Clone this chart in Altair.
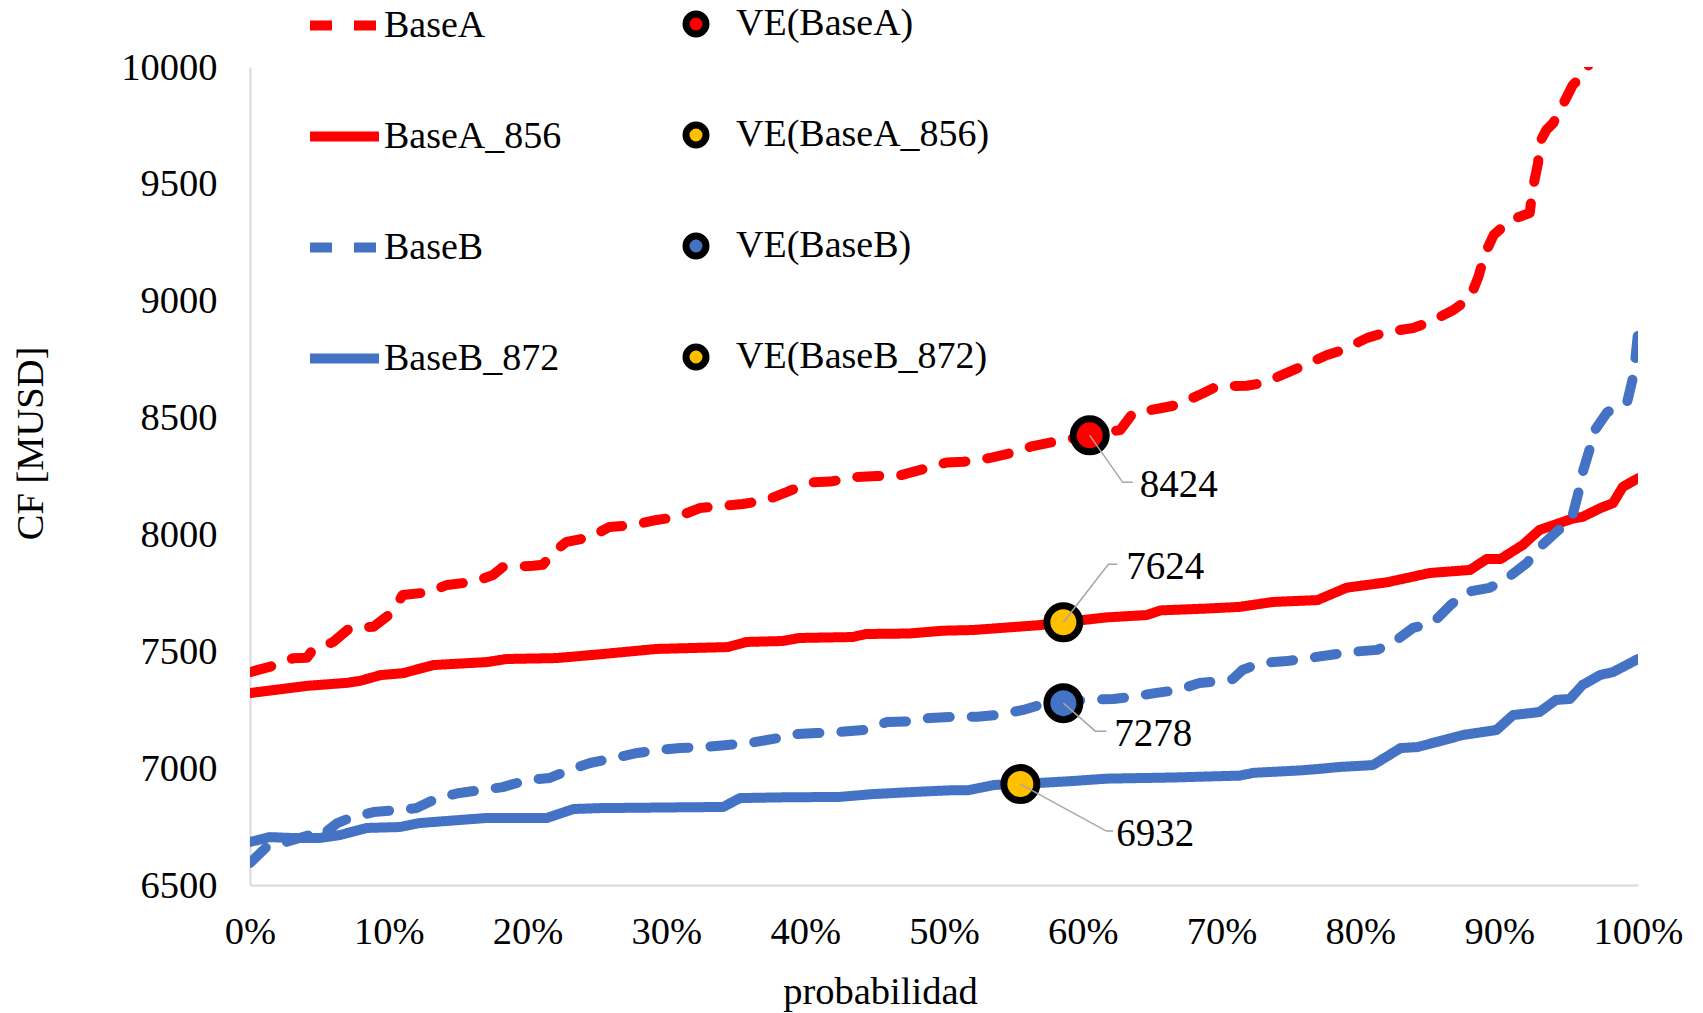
import altair as alt
import pandas as pd

# Cumulative probability (%) and CF [MUSD] for each case
base_a_prob = [0, 1.4, 3.1, 4.1, 4.5, 6.0, 7.2, 8.9, 10.2, 11.0, 12.8, 14.2, 16.1, 17.5, 18.2,
               19.0, 20.4, 21.1, 21.8, 22.8, 24.5, 25.9, 27.6, 29.3, 30.8, 32.4, 34.1, 35.5,
               37.2, 38.7, 40.3, 41.8, 43.7, 45.2, 46.8, 48.3, 50.2, 51.4, 53.3, 54.8, 56.4,
               57.9, 60.5, 62.7, 63.6, 65.6, 66.8, 68.7, 69.7, 71.8, 73.0, 74.7, 76.0, 77.6,
               78.7, 80.5, 81.9, 83.8, 85.0, 86.7, 87.9, 88.5, 89.0, 89.6, 90.8, 92.2, 92.4,
               92.8, 92.9, 93.4, 93.9, 94.5, 95.3, 96.2, 96.5, 97.5]
base_a_cf = [7411, 7433, 7470, 7472, 7505, 7540, 7600, 7605, 7664, 7741, 7752, 7784, 7797, 7826,
             7860, 7862, 7866, 7870, 7920, 7968, 7988, 8032, 8040, 8062, 8075, 8113, 8122, 8130,
             8147, 8182, 8222, 8226, 8246, 8250, 8252, 8276, 8308, 8311, 8327, 8348, 8378, 8396,
             8424, 8447, 8518, 8540, 8554, 8605, 8635, 8636, 8648, 8691, 8725, 8768, 8789, 8841,
             8866, 8883, 8909, 8960, 9012, 9102, 9204, 9281, 9345, 9375, 9474, 9589, 9675, 9731,
             9761, 9829, 9923, 9974, 10017, 10150]

base_a856_prob = [0, 1.7, 4.1, 7.0, 7.9, 9.4, 11.0, 13.2, 17.1, 18.5, 22.1, 25.0, 29.3, 34.4,
                  35.8, 38.4, 39.6, 43.4, 44.4, 47.5, 49.9, 52.1, 56.9, 58.6, 61.7, 64.6, 65.6,
                  69.0, 71.3, 73.7, 76.9, 79.0, 81.9, 85.0, 87.9, 89.1, 90.1, 91.7, 92.9, 95.3,
                  96.0, 97.3, 98.2, 98.9, 100]
base_a856_cf = [7321, 7334, 7352, 7365, 7373, 7398, 7406, 7441, 7454, 7467, 7471, 7486, 7510,
                7518, 7540, 7544, 7557, 7561, 7574, 7576, 7588, 7591, 7612, 7624, 7645, 7655,
                7675, 7683, 7690, 7711, 7719, 7772, 7795, 7835, 7848, 7895, 7895, 7955, 8019,
                8068, 8075, 8113, 8134, 8203, 8240]

base_b_prob = [0, 1.2, 2.6, 4.3, 5.0, 6.3, 7.2, 8.9, 10.6, 12.0, 13.5, 15.1, 16.8, 18.2, 20.0,
               21.6, 23.0, 24.5, 26.2, 27.9, 29.5, 31.0, 32.6, 34.4, 36.0, 37.7, 39.4, 40.8,
               42.5, 44.2, 45.9, 47.3, 49.0, 50.4, 52.4, 53.8, 55.7, 56.9, 58.6, 60.0, 62.2,
               63.4, 65.3, 66.8, 68.4, 69.9, 70.8, 71.5, 72.8, 74.7, 77.8, 79.3, 81.2, 82.3,
               83.8, 85.2, 86.5, 87.7, 89.3, 90.6, 92.0, 92.9, 94.2, 95.2, 95.7, 96.0, 96.5,
               96.9, 97.8, 99.2, 99.6, 99.8, 100]
base_b_cf = [6594, 6663, 6684, 6714, 6705, 6765, 6787, 6812, 6821, 6829, 6872, 6894, 6907, 6919,
             6949, 6958, 6992, 7022, 7043, 7065, 7078, 7086, 7090, 7099, 7108, 7125, 7146, 7150,
             7155, 7163, 7197, 7200, 7215, 7219, 7220, 7227, 7249, 7270, 7278, 7292, 7296, 7304,
             7322, 7334, 7364, 7373, 7381, 7420, 7450, 7458, 7484, 7497, 7506, 7535, 7600, 7621,
             7698, 7754, 7771, 7814, 7878, 7944, 8015, 8062, 8177, 8263, 8361, 8447, 8524, 8562,
             8661, 8746, 8862]

base_b872_prob = [0, 1.4, 3.1, 5.0, 6.5, 8.4, 10.8, 12.2, 14.2, 17.1, 21.4, 23.3, 25.2, 30.5,
                  34.1, 35.3, 38.4, 42.5, 44.9, 48.5, 50.4, 51.7, 53.6, 55.5, 59.3, 61.7, 66.5,
                  71.3, 72.3, 75.6, 76.9, 78.5, 80.9, 82.9, 84.1, 86.0, 87.4, 89.8, 91.0, 92.9,
                  94.1, 95.1, 96.0, 97.3, 98.2, 100]
base_b872_cf = [6684, 6705, 6701, 6701, 6714, 6744, 6748, 6765, 6774, 6787, 6787, 6825, 6829,
                6832, 6834, 6872, 6875, 6877, 6889, 6900, 6905, 6905, 6928, 6932, 6945, 6955,
                6960, 6968, 6980, 6990, 6996, 7005, 7013, 7086, 7090, 7120, 7142, 7163, 7227,
                7240, 7292, 7296, 7356, 7399, 7411, 7467]

# Expected values (VE) of each case
ve_names = ["VE(BaseA)", "VE(BaseA_856)", "VE(BaseB)", "VE(BaseB_872)"]
ve_prob = [60.5, 58.6, 58.6, 55.5]
ve_cf = [8424, 7624, 7278, 6932]

series_names = ["BaseA", "BaseA_856", "BaseB", "BaseB_872"]
series_prob = [base_a_prob, base_a856_prob, base_b_prob, base_b872_prob]
series_cf = [base_a_cf, base_a856_cf, base_b_cf, base_b872_cf]

RED = "#FF0000"
BLUE = "#4472C4"
GOLD = "#FFC000"
FONT = "Liberation Serif"
FS = 38.5
LEGEND_FS = 38
LABEL_FS = 39

# Plot-area size and axis ranges
W, H = 1388, 818
Y_MIN, Y_MAX = 6500, 10000
PX_P = 1.0 / W                    # probability per pixel
PX_CF = (Y_MAX - Y_MIN) / H       # MUSD per pixel

line_colors = [RED, RED, BLUE, BLUE]
dash_pattern = [22, 22]
line_dashes = [dash_pattern, [1, 0], dash_pattern, [1, 0]]
ve_fill = [RED, GOLD, BLUE, GOLD]

# Leader-line geometry for the VE labels, in pixels from the point: elbow, end, text anchor
label_offsets = {
    "VE(BaseA)": ((33, 47), (43, 47), (50, 50)),
    "VE(BaseA_856)": ((45, -58), (54, -58), (63, -55)),
    "VE(BaseB)": ((32, 28), (43, 28), (51, 31)),
    "VE(BaseB_872)": ((86, 47), (93, 47), (96, 50)),
}

rows = []
for name, ps, vs in zip(series_names, series_prob, series_cf):
    for p, v in zip(ps, vs):
        rows.append({"series": name, "p": p / 100.0, "cf": v})
lines_df = pd.DataFrame(rows)

ve_df = pd.DataFrame({"ve": ve_names, "p": [p / 100.0 for p in ve_prob], "cf": ve_cf})


def shifted(p, v, dx, dy):
    """Point displaced by (dx, dy) screen pixels from (p, v)."""
    return p / 100.0 + dx * PX_P, v - dy * PX_CF


leader_rows, text_rows = [], []
for name, p, v in zip(ve_names, ve_prob, ve_cf):
    elbow, end, txt = label_offsets[name]
    for k, (dx, dy) in enumerate([(0, 0), elbow, end]):
        lp, lv = shifted(p, v, dx, dy)
        leader_rows.append({"ve": name, "k": k, "lp": lp, "lv": lv})
    tp, tv = shifted(p, v, *txt)
    text_rows.append({"ve": name, "cf": v, "tp": tp, "tv": tv})
leader_df = pd.DataFrame(leader_rows)
text_df = pd.DataFrame(text_rows)

line_legend = alt.Legend(
    title=None,
    orient="none",
    legendX=55,
    legendY=-81,
    padding=0,
    rowPadding=51,
    symbolType="stroke",
    symbolSize=4761,
    symbolStrokeWidth=10,
    labelFont=FONT,
    labelFontSize=LEGEND_FS,
    labelColor="black",
    labelLimit=0,
    labelOffset=0,
)

ve_legend = alt.Legend(
    title=None,
    orient="none",
    legendX=427,
    legendY=-62,
    padding=0,
    rowPadding=63,
    symbolType="circle",
    symbolSize=400,
    symbolStrokeWidth=7,
    symbolStrokeColor="black",
    symbolOpacity=1,
    labelFont=FONT,
    labelFontSize=LEGEND_FS,
    labelColor="black",
    labelLimit=0,
    labelOffset=21,
)

x_axis = alt.Axis(
    title="probabilidad",
    values=[i / 10 for i in range(11)],
    format=".0%",
    labelPadding=28,
    titleX=630,
    titleY=106,
    titleAlign="center",
    titleBaseline="middle",
)
y_axis = alt.Axis(
    title="CF [MUSD]",
    values=list(range(6500, 10001, 500)),
    format="d",
    labelPadding=33,
    titleX=-220,
    titleY=376,
    titleAngle=-90,
    titleAlign="center",
    titleBaseline="middle",
)
x_scale = alt.Scale(domain=[0, 1], nice=False)
y_scale = alt.Scale(domain=[Y_MIN, Y_MAX], nice=False, zero=False)

lines = alt.Chart(lines_df).mark_line(
    strokeWidth=10, strokeCap="round", strokeJoin="round", clip=True
).encode(
    x=alt.X("p:Q", scale=x_scale, axis=x_axis),
    y=alt.Y("cf:Q", scale=y_scale, axis=y_axis),
    color=alt.Color("series:N", scale=alt.Scale(domain=series_names, range=line_colors), legend=line_legend),
    strokeDash=alt.StrokeDash("series:N", scale=alt.Scale(domain=series_names, range=line_dashes), legend=line_legend),
    order="p:Q",
)

points = alt.Chart(ve_df).mark_point(
    filled=True, shape="circle", size=1089, stroke="black", strokeWidth=7, opacity=1
).encode(
    x="p:Q",
    y="cf:Q",
    fill=alt.Fill("ve:N", scale=alt.Scale(domain=ve_names, range=ve_fill), legend=ve_legend),
)

leaders = alt.Chart(leader_df).mark_line(color="#A6A6A6", strokeWidth=1.5).encode(
    x="lp:Q",
    y="lv:Q",
    detail="ve:N",
    order="k:Q",
)

labels = alt.Chart(text_df).mark_text(
    align="left", baseline="middle", font=FONT, fontSize=LABEL_FS, color="black"
).encode(
    x="tp:Q",
    y="tv:Q",
    text=alt.Text("cf:Q", format="d"),
)

chart = alt.layer(lines, points, leaders, labels).properties(
    width=W,
    height=H,
    autosize=alt.AutoSizeParams(type="none"),
    padding={"left": 250, "top": 67, "right": 65, "bottom": 128},
    background="white",
).configure_view(stroke=None).configure_axis(
    domainColor="#D9D9D9",
    domainWidth=2,
    ticks=False,
    tickSize=0,
    grid=False,
    labelFont=FONT,
    labelFontSize=FS,
    labelColor="black",
    labelOverlap=False,
    labelFlush=False,
    labelBound=False,
    titleFont=FONT,
    titleFontSize=FS,
    titleFontWeight="normal",
    titleColor="black",
)

chart.save("out.html", embed_options={"renderer": "svg", "actions": False})
